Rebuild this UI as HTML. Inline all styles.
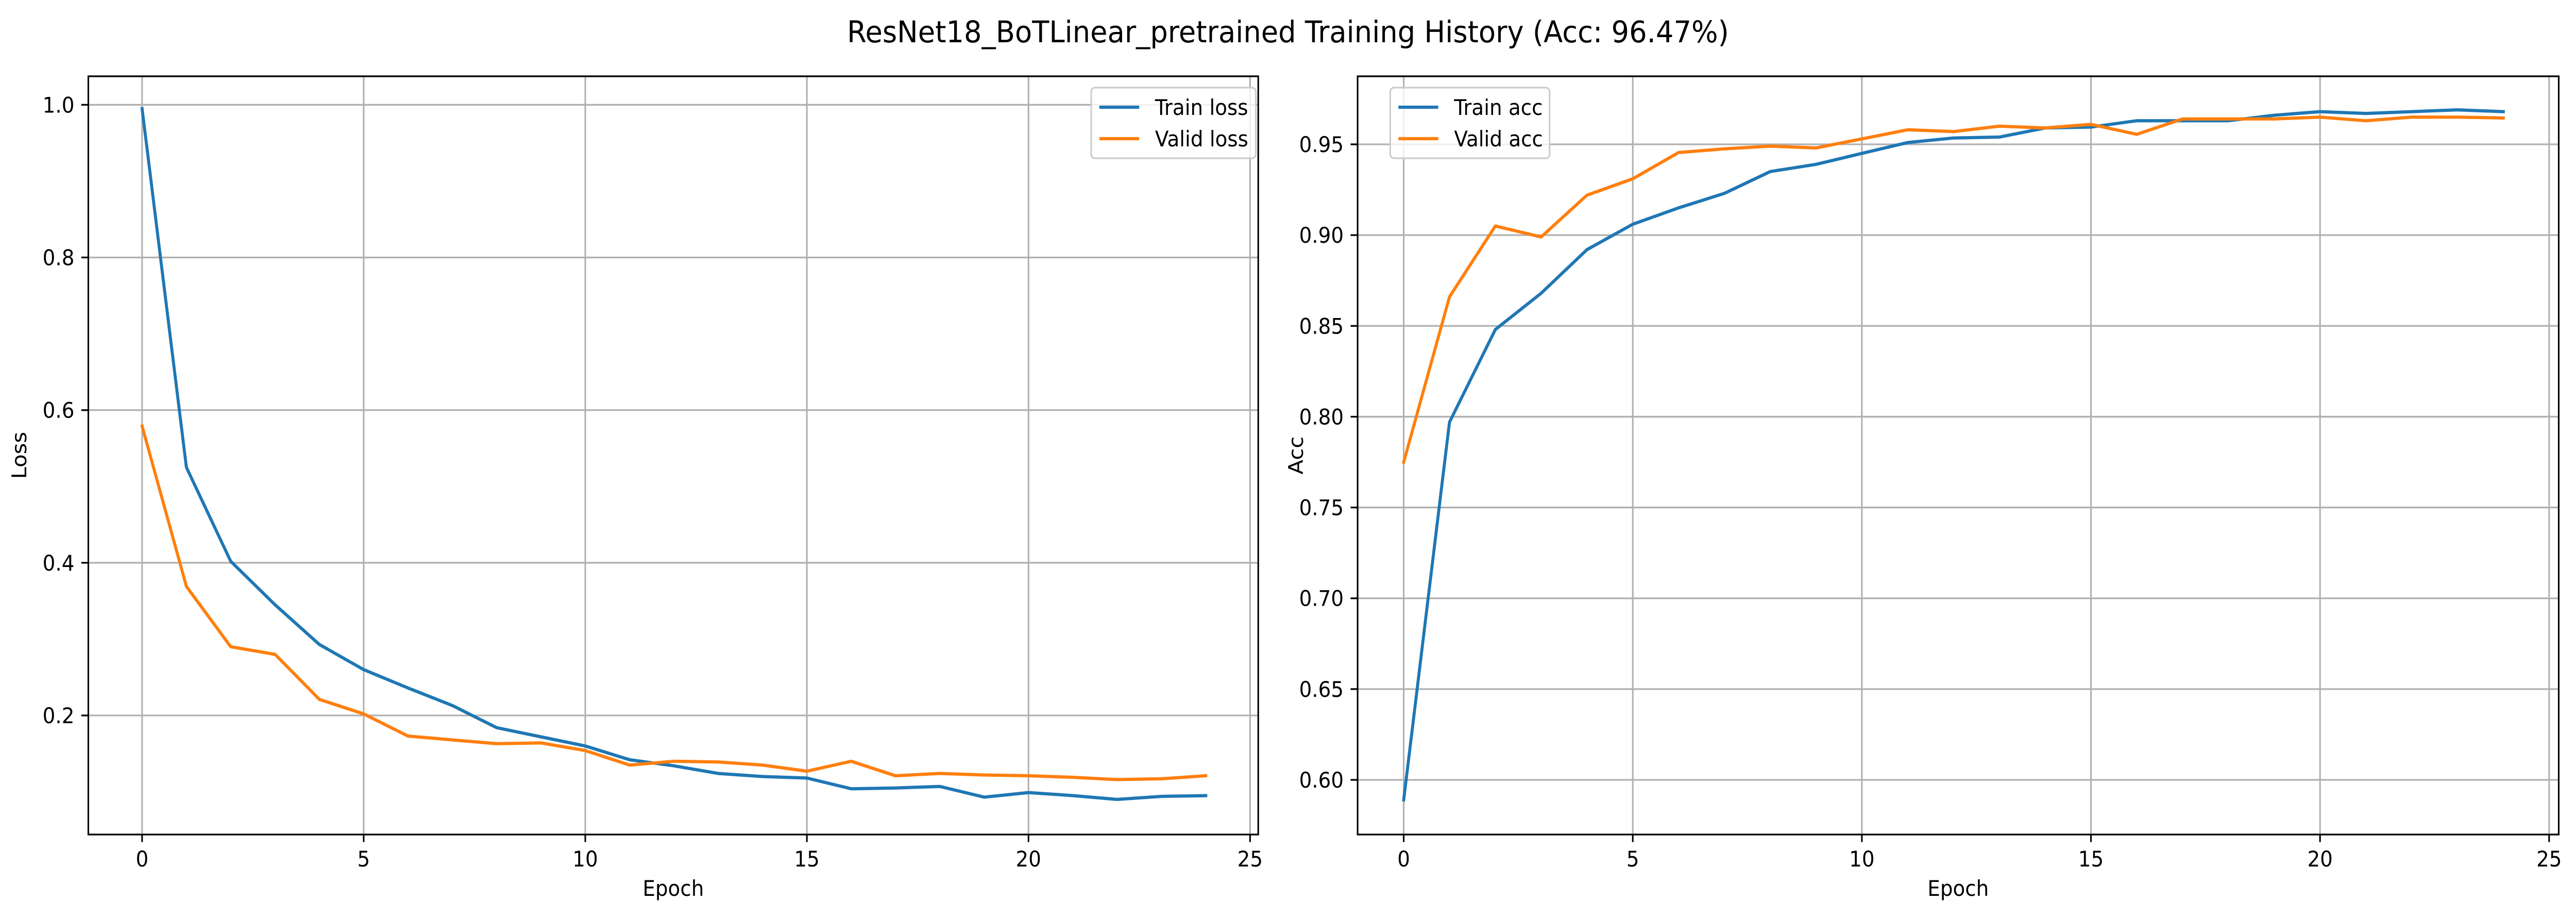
<!DOCTYPE html>
<html><head><meta charset="utf-8">
<style>
html,body{margin:0;padding:0;background:#fff;overflow:hidden;width:100vw;height:100vh;}
svg{display:block;position:fixed;left:0;top:0;width:100vw;height:100vh;font-family:"DejaVu Sans","Liberation Sans",sans-serif;}
</style></head>
<body>
<svg id="fig" viewBox="0 0 5366 1779" preserveAspectRatio="none" xmlns="http://www.w3.org/2000/svg">
<rect width="5366" height="1779" fill="#fff"/>
<text x="2683" y="82" font-size="58.3" text-anchor="middle">ResNet18_BoTLinear_pretrained Training History (Acc: 96.47%)</text>
</svg>
<script>
const epochs = [0,1,2,3,4,5,6,7,8,9,10,11,12,13,14,15,16,17,18,19,20,21,22,23,24];
const trainLoss = [0.995,0.525,0.402,0.345,0.293,0.260,0.236,0.213,0.184,0.172,0.160,0.142,0.134,0.124,0.120,0.118,0.104,0.105,0.107,0.093,0.099,0.095,0.090,0.094,0.095];
const validLoss = [0.579,0.369,0.290,0.280,0.221,0.202,0.173,0.168,0.163,0.164,0.154,0.135,0.140,0.139,0.135,0.127,0.140,0.121,0.124,0.122,0.121,0.119,0.116,0.117,0.121];
const trainAcc = [0.589,0.797,0.848,0.868,0.892,0.906,0.915,0.923,0.935,0.939,0.945,0.951,0.9535,0.954,0.959,0.9595,0.963,0.963,0.963,0.966,0.968,0.967,0.968,0.969,0.968];
const validAcc = [0.775,0.866,0.905,0.899,0.922,0.931,0.9455,0.9475,0.949,0.948,0.953,0.958,0.957,0.960,0.959,0.961,0.9555,0.964,0.964,0.964,0.965,0.963,0.965,0.965,0.9645];
const xTicks = [0,5,10,15,20,25];
const lossTicks = [0.2,0.4,0.6,0.8,1.0];
const lossTickLabels = ["0.2","0.4","0.6","0.8","1.0"];
const accTicks = [0.60,0.65,0.70,0.75,0.80,0.85,0.90,0.95];
const accTickLabels = ["0.60","0.65","0.70","0.75","0.80","0.85","0.90","0.95"];

const NS = "http://www.w3.org/2000/svg";
const svg = document.getElementById('fig');
function mk(tag, attrs, parent){
  const e = document.createElementNS(NS, tag);
  for (const k in attrs) e.setAttribute(k, attrs[k]);
  (parent||svg).appendChild(e);
  return e;
}

function panel(cfg){
  const g = mk('g', {});
  
  
  const xs = v => cfg.x0px + (v - 0) * (cfg.x25px - cfg.x0px) / 25;
  const ys = v => cfg.yApx + (v - cfg.yA) * (cfg.yBpx - cfg.yApx) / (cfg.yB - cfg.yA);
  xTicks.forEach(t => {
    const l = mk('line', {x1:xs(t), x2:xs(t), y1:cfg.top, y2:cfg.bottom, stroke:'#b0b0b0', 'stroke-width':3.3}, g);
    
    
  });
  cfg.yTicks.forEach(t => {
    const l = mk('line', {x1:cfg.left, x2:cfg.right, y1:ys(t), y2:ys(t), stroke:'#b0b0b0', 'stroke-width':3.3}, g);
    
    
  });
  const series = [[cfg.train, '#1f77b4', 'train-line'], [cfg.valid, '#ff7f0e', 'valid-line']];
  series.forEach(s => {
    const pts = epochs.map((e,i) => xs(e).toFixed(1) + ',' + ys(s[0][i]).toFixed(1)).join(' ');
    const p = mk('polyline', {points:pts, fill:'none', stroke:s[1], 'stroke-width':6.25, 'stroke-linejoin':'round', 'stroke-linecap':'square'}, g);
    
    
  });
  const fr = mk('rect', {x:cfg.left, y:cfg.top, width:cfg.right-cfg.left, height:cfg.bottom-cfg.top, fill:'none', stroke:'#000', 'stroke-width':3.3}, g);
  
  
  xTicks.forEach(t => {
    const l = mk('line', {x1:xs(t), x2:xs(t), y1:cfg.bottom, y2:cfg.bottom+14.6, stroke:'#000', 'stroke-width':3.3}, g);
    
    
    const tx = mk('text', {x:xs(t), y:1681, 'font-size':41.7, 'text-anchor':'middle'}, g);
    tx.textContent = String(t);
    
    
  });
  cfg.yTicks.forEach((t,i) => {
    const l = mk('line', {x1:cfg.left-14.6, x2:cfg.left, y1:ys(t), y2:ys(t), stroke:'#000', 'stroke-width':3.3}, g);
    
    
    const tx = mk('text', {x:cfg.left-29, y:ys(t)+15, 'font-size':41.7, 'text-anchor':'end'}, g);
    tx.textContent = cfg.yLabels[i];
    
    
  });
  const xt = mk('text', {x:(cfg.left+cfg.right)/2, y:1738, 'font-size':41.7, 'text-anchor':'middle'}, g);
  xt.textContent = 'Epoch';
  
  
  const yc = (cfg.top+cfg.bottom)/2;
  const yt = mk('text', {x:cfg.ylabX, y:yc, 'font-size':41.7, 'text-anchor':'middle', transform:'rotate(-90 '+cfg.ylabX+' '+yc+')'}, g);
  yt.textContent = cfg.ylabel;
  
  
  const lg = mk('g', {}, g);
  
  
  const bx = mk('rect', {x:cfg.legX, y:170, width:cfg.legW, height:137, rx:8, fill:'#fff', 'fill-opacity':0.8, stroke:'#cccccc', 'stroke-width':3.3}, lg);
  
  
  [[cfg.legendLabels[0], '#1f77b4', 208], [cfg.legendLabels[1], '#ff7f0e', 269]].forEach(e => {
    const ent = mk('g', {}, lg);
    
    
    mk('line', {x1:cfg.legX+17, x2:cfg.legX+100, y1:e[2], y2:e[2], stroke:e[1], 'stroke-width':6.25}, ent);
    const t = mk('text', {x:cfg.legX+133, y:e[2]+15, 'font-size':41.7}, ent);
    t.textContent = e[0];
  });
}

panel({name:'loss-panel', left:184, right:2621, top:148, bottom:1619,
  x0px:296, x25px:2604, yA:0.2, yApx:1388, yB:1.0, yBpx:203.3,
  yTicks:lossTicks, yLabels:lossTickLabels, train:trainLoss, valid:validLoss,
  ylabel:'Loss', ylabX:55, legX:2273, legW:343, legendLabels:['Train loss','Valid loss']});
panel({name:'acc-panel', left:2828, right:5330, top:148, bottom:1619,
  x0px:2924, x25px:5310, yA:0.60, yApx:1513, yB:0.95, yBpx:280,
  yTicks:accTicks, yLabels:accTickLabels, train:trainAcc, valid:validAcc,
  ylabel:'Acc', ylabX:2714, legX:2896, legW:332, legendLabels:['Train acc','Valid acc']});
</script>
</body></html>
